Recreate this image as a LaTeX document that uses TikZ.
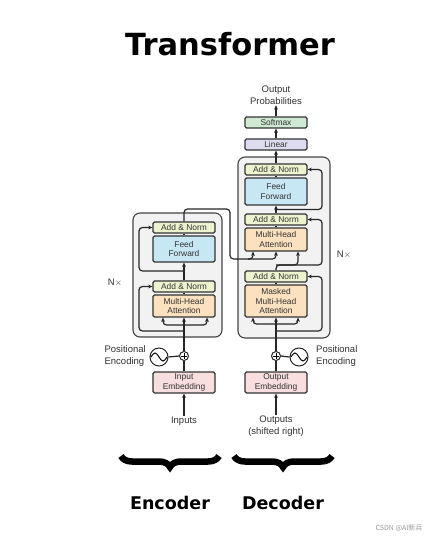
\documentclass[tikz,border=0pt]{standalone}
\usepackage{fontspec}
\setmainfont{Liberation Sans}
\newfontfamily\titlefont{DejaVu Sans}
\newfontfamily\cjkfont{Noto Sans CJK SC}
\usetikzlibrary{arrows.meta,decorations.pathreplacing}
\definecolor{annorm}{HTML}{EEF3CF}
\definecolor{ffblue}{HTML}{C7E7F5}
\definecolor{attn}{HTML}{FBE1BF}
\definecolor{smax}{HTML}{CFE9D2}
\definecolor{linr}{HTML}{DEDDF0}
\definecolor{emb}{HTML}{F8DEDE}
\definecolor{stackbg}{HTML}{F2F2F2}
\definecolor{stackline}{HTML}{444444}
\definecolor{boxline}{HTML}{333333}
\definecolor{txt}{HTML}{333333}
\begin{document}
\begin{tikzpicture}[x=1pt,y=-1pt,
  blk/.style={draw=boxline, line width=1.2pt, rounded corners=1.5pt, minimum width=62pt,
    inner sep=0pt, align=center, text=txt, font=\fontsize{8.4}{9.6}\selectfont},
  addnorm/.style={blk, fill=annorm, minimum height=11pt},
  stack/.style={draw=stackline, fill=stackbg, line width=1.1pt, rounded corners=7pt},
  wire/.style={draw=black!85, line width=1.2pt},
  arr/.style={wire, -{Stealth[length=4.2pt,width=3.8pt]}},
  rc/.style={rounded corners=3.5pt},
  lbl/.style={text=txt, align=center, font=\fontsize{9.5}{11.5}\selectfont, inner sep=1pt},
  plusnode/.style={draw=black!85, line width=1pt, circle, minimum size=9pt, inner sep=0pt},
  sinenode/.style={draw=black!85, line width=1pt, circle, minimum size=18pt, inner sep=0pt}
]
\useasboundingbox[fill=white] (0,0) rectangle (428,542);

% title
\node (title) at (230,44) {\titlefont\bfseries\fontsize{30.5}{34}\selectfont Transformer};

% stacks
\node[stack, minimum width=89pt, minimum height=124pt] (estack) at (177.5,275) {};
\node[stack, minimum width=92pt, minimum height=181pt] (dstack) at (284,247.5) {};

% encoder blocks
\node[addnorm] (eAN2) at (184,227.5) {Add \& Norm};
\node[blk, fill=ffblue, minimum height=26pt] (eFF) at (184,249) {Feed\\Forward};
\node[addnorm] (eAN1) at (184,286.5) {Add \& Norm};
\node[blk, fill=attn, minimum height=22pt] (eMHA) at (184,306) {Multi-Head\\Attention};
\node[blk, fill=emb, minimum height=21pt] (eEmb) at (184,382.5) {Input\\Embedding};
\node[plusnode] (ePlus) at (184,356) {};
\node[sinenode] (eSin) at (159,357) {};

% decoder blocks
\node[blk, fill=smax, minimum height=11pt] (soft) at (276,122.5) {Softmax};
\node[blk, fill=linr, minimum height=11pt] (lin) at (276,144.5) {Linear};
\node[addnorm] (dAN3) at (276,169.5) {Add \& Norm};
\node[blk, fill=ffblue, minimum height=27pt] (dFF) at (276,191.5) {Feed\\Forward};
\node[addnorm] (dAN2) at (276,219.5) {Add \& Norm};
\node[blk, fill=attn, minimum height=23pt] (dMHA) at (276,239.5) {Multi-Head\\Attention};
\node[addnorm] (dAN1) at (276,276.5) {Add \& Norm};
\node[blk, fill=attn, minimum height=32pt] (dMMHA) at (276,301) {Masked\\Multi-Head\\Attention};
\node[blk, fill=emb, minimum height=21pt] (dEmb) at (276,382.5) {Output\\Embedding};
\node[plusnode] (dPlus) at (276,356) {};
\node[sinenode] (dSin) at (299,357) {};

% plus signs and sine waves
\foreach \p in {ePlus,dPlus}{
  \draw[line width=0.9pt] ([xshift=-3pt]\p.center) -- ([xshift=3pt]\p.center);
  \draw[line width=0.9pt] ([yshift=-3pt]\p.center) -- ([yshift=3pt]\p.center);
}
\foreach \s in {eSin,dSin}{
  \draw[line width=1pt] ([xshift=-8pt]\s.center) sin ([xshift=-4pt,yshift=4pt]\s.center)
    cos (\s.center) sin ([xshift=4pt,yshift=-4pt]\s.center) cos ([xshift=8pt]\s.center);
}

% labels
\node[lbl] (pprob) at (276,95) {Output\\Probabilities};
\node[lbl] (inputs) at (184,421) {Inputs};
\node[lbl] (outputs) at (276,426) {Outputs\\(shifted right)};
\node[lbl, align=left, anchor=east] (ePos) at (147,356) {Positional\\Encoding};
\node[lbl, align=left, anchor=west] (dPos) at (315,356) {Positional\\Encoding};
\node[lbl] (eN) at (115,283) {N$\times$};
\node[lbl] (dN) at (344,255) {N$\times$};

% encoder wiring
\draw[arr] (inputs.north) -- (eEmb.south);
\draw[wire] (eEmb.north) -- (ePlus.south);
\draw[wire] (eSin.east) -- (ePlus.west);
\draw[arr] (ePlus.north) -- (eMHA.south);
\coordinate (eBr) at (184,325);
\draw[arr, rc] (eBr) -| ([xshift=-21pt]eMHA.south);
\draw[arr, rc] (eBr) -| ([xshift=23pt]eMHA.south);
\draw[wire] (eMHA.north) -- (eAN1.south);
\coordinate (eRes1) at (184,331);
\draw[arr, rc] (eRes1) -- (139,331) |- (eAN1.west);
\draw[arr] (eAN1.north) -- (eFF.south);
\coordinate (eRes2) at (184,271);
\draw[arr, rc] (eRes2) -- (139,271) |- (eAN2.west);
\draw[wire] (eFF.north) -- (eAN2.south);

% encoder to decoder
\coordinate (eOut1) at (184,209);
\coordinate (eOut2) at (230,209);
\coordinate (eOut3) at (230,259);
\draw[arr, rc] (eAN2.north) -- (eOut1) -- (eOut2) -- (eOut3) -| ([xshift=-23pt]dMHA.south);
\coordinate (eOut4) at (248,259);
\draw[arr, rc] (eOut4) -| (dMHA.south);

% decoder wiring
\draw[arr] (outputs.north) -- (dEmb.south);
\draw[wire] (dEmb.north) -- (dPlus.south);
\draw[wire] (dSin.west) -- (dPlus.east);
\draw[arr] (dPlus.north) -- (dMMHA.south);
\coordinate (dBr) at (276,324);
\draw[arr, rc] (dBr) -| ([xshift=-23pt]dMMHA.south);
\draw[arr, rc] (dBr) -| ([xshift=22pt]dMMHA.south);
\draw[wire] (dMMHA.north) -- (dAN1.south);
\coordinate (dRes1) at (276,331);
\draw[arr, rc] (dRes1) -- (322,331) |- (dAN1.east);
\coordinate (dMid) at (276,265);
\draw[arr, rc] (dAN1.north) -- (dMid) -| ([xshift=22pt]dMHA.south);
\draw[arr, rc] (dMid) -- (322,265) |- (dAN2.east);
\draw[wire] (dMHA.north) -- (dAN2.south);
\draw[arr] (dAN2.north) -- (dFF.south);
\coordinate (dRes3) at (276,209.5);
\draw[arr, rc] (dRes3) -- (322,209.5) |- (dAN3.east);
\draw[wire] (dFF.north) -- (dAN3.south);
\draw[arr] (dAN3.north) -- (lin.south);
\draw[arr] (lin.north) -- (soft.south);
\draw[arr] (soft.north) -- (pprob.south);

% braces
\coordinate (bE1) at (121,456);
\coordinate (bE2) at (219,456);
\coordinate (bD1) at (234,456);
\coordinate (bD2) at (332,456);
\draw[line width=6.5pt, decorate, decoration={brace, mirror, amplitude=11pt}] (bE1) -- (bE2);
\draw[line width=6.5pt, decorate, decoration={brace, mirror, amplitude=11pt}] (bD1) -- (bD2);
\node (enc) at (170,503) {\titlefont\bfseries\fontsize{17.5}{20}\selectfont Encoder};
\node (dec) at (283,503) {\titlefont\bfseries\fontsize{17.5}{20}\selectfont Decoder};

% watermark
\node[text=black!40, font=\cjkfont\fontsize{7}{8}\selectfont, anchor=east] (wm) at (426,528) {CSDN @AI新兵};
\end{tikzpicture}
\end{document}
